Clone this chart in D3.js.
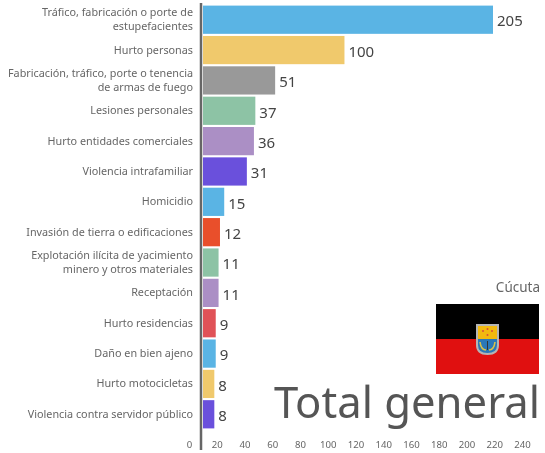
<!DOCTYPE html>
<html>
<head>
<meta charset="utf-8">
<script src="https://cdn.jsdelivr.net/npm/d3@7"></script>
<style>
  html, body { margin: 0; padding: 0; background: #fff; }
  svg { display: block; filter: blur(0.4px); }
  text { font-family: "Noto Sans", sans-serif; }
</style>
</head>
<body>
<svg id="chart"></svg>
<script>
const categories = [
  'Tráfico, fabricación o porte de|estupefacientes',
  'Hurto personas',
  'Fabricación, tráfico, porte o tenencia|de armas de fuego',
  'Lesiones personales',
  'Hurto entidades comerciales',
  'Violencia intrafamiliar',
  'Homicidio',
  'Invasión de tierra o edificaciones',
  'Explotación ilícita de yacimiento|minero y otros materiales',
  'Receptación',
  'Hurto residencias',
  'Daño en bien ajeno',
  'Hurto motocicletas',
  'Violencia contra servidor público'
];
const values = [205, 100, 51, 37, 36, 31, 15, 12, 11, 11, 9, 9, 8, 8];
const barColors = ['#5ab4e4', '#f0c96c', '#999999', '#8dc3a5', '#ab8fc5', '#6a50dc', '#5ab4e4',
  '#e94f2b', '#8dc3a5', '#ab8fc5', '#e05257', '#5ab4e4', '#f0c96c', '#6a50dc'];
const tickValues = [0, 20, 40, 60, 80, 100, 120, 140, 160, 180, 200, 220, 240];

const width = 545, height = 453;
const svg = d3.select('#chart').attr('width', width).attr('height', height);

const x = d3.scaleLinear().domain([0, 205]).range([203, 493]);
const y = d3.scaleBand().domain(categories).range([5, 429]).paddingInner(0.07).paddingOuter(0.02);
// the tick labels in the picture sit left of the bar origin, so they get their own scale
const xTicks = d3.scaleLinear().domain([0, 240]).range([189, 522]);

svg.selectAll('rect.bar')
  .data(values)
  .enter()
  .append('rect')
  .attr('class', 'bar')
  .attr('x', x(0))
  .attr('y', (d, i) => y(categories[i]))
  .attr('width', d => x(d) - x(0))
  .attr('height', y.bandwidth())
  .attr('fill', (d, i) => barColors[i]);

svg.selectAll('text.value')
  .data(values)
  .enter()
  .append('text')
  .attr('class', 'value')
  .attr('x', d => x(d) + 4)
  .attr('y', (d, i) => y(categories[i]) + y.bandwidth() / 2 + 1.5)
  .attr('dy', '.35em')
  .attr('font-size', 15)
  .attr('fill', '#444')
  .text(d => d);

const labels = svg.selectAll('text.cat')
  .data(categories)
  .enter()
  .append('text')
  .attr('class', 'cat')
  .attr('text-anchor', 'end')
  .attr('font-size', 10.8)
  .attr('fill', '#666')
  .attr('y', d => y(d) + y.bandwidth() / 2);

labels.each(function (d) {
  const lines = d.split('|');
  d3.select(this).selectAll('tspan')
    .data(lines)
    .enter()
    .append('tspan')
    .attr('x', 193)
    .attr('dy', (l, i) => (i === 0 ? (lines.length === 1 ? 3.5 : -3.3) : 13.6))
    .text(l => l);
});

svg.append('line')
  .attr('x1', 201).attr('x2', 201)
  .attr('y1', 3).attr('y2', 450)
  .attr('stroke', '#666')
  .attr('stroke-width', 2.5);

const axis = svg.append('g')
  .attr('transform', 'translate(0,445)')
  .call(d3.axisBottom(xTicks).tickValues(tickValues).tickSize(0).tickPadding(0));
axis.select('.domain').remove();
axis.selectAll('text')
  .attr('font-size', 9.6)
  .attr('fill', '#666')
  .attr('dy', 3)
  .style('font-family', '"Noto Sans", sans-serif');

svg.append('text')
  .attr('x', 540).attr('y', 292)
  .attr('text-anchor', 'end')
  .attr('font-size', 13.5)
  .attr('fill', '#666')
  .text('Cúcuta');

svg.append('text')
  .attr('x', 540).attr('y', 418)
  .attr('text-anchor', 'end')
  .attr('font-size', 43.6)
  .attr('fill', '#555')
  .text('Total general');

// flag with the coat of arms
const flag = svg.append('g').attr('transform', 'translate(436,304)');
flag.append('rect').attr('width', 103).attr('height', 35).attr('fill', '#000');
flag.append('rect').attr('y', 35).attr('width', 103).attr('height', 35).attr('fill', '#e01010');
flag.append('path')
  .attr('d', 'M40,20H63V41Q63,51 51.5,51Q40,51 40,41Z')
  .attr('fill', '#b5b5b5');
flag.append('rect').attr('x', 42).attr('y', 22).attr('width', 19).attr('height', 13).attr('fill', '#f2b90f');
flag.append('path').attr('d', 'M42,35H61V41Q61,49 51.5,49Q42,49 42,41Z').attr('fill', '#2a78b8');
flag.append('path').attr('d', 'M44,38Q45,46 50,46').attr('fill', 'none').attr('stroke', '#d9c24a').attr('stroke-width', 1.6);
flag.append('path').attr('d', 'M59,38Q58,46 53,46').attr('fill', 'none').attr('stroke', '#d9c24a').attr('stroke-width', 1.6);
flag.append('line').attr('x1', 51.5).attr('x2', 51.5).attr('y1', 37).attr('y2', 46).attr('stroke', '#333').attr('stroke-width', 1);
flag.append('circle').attr('cx', 47).attr('cy', 27).attr('r', 1).attr('fill', '#d8503a');
flag.append('circle').attr('cx', 51.5).attr('cy', 25).attr('r', 1).attr('fill', '#d8503a');
flag.append('circle').attr('cx', 56).attr('cy', 27).attr('r', 1).attr('fill', '#d8503a');
flag.append('circle').attr('cx', 51.5).attr('cy', 31).attr('r', 1).attr('fill', '#d8503a');
</script>
</body>
</html>
